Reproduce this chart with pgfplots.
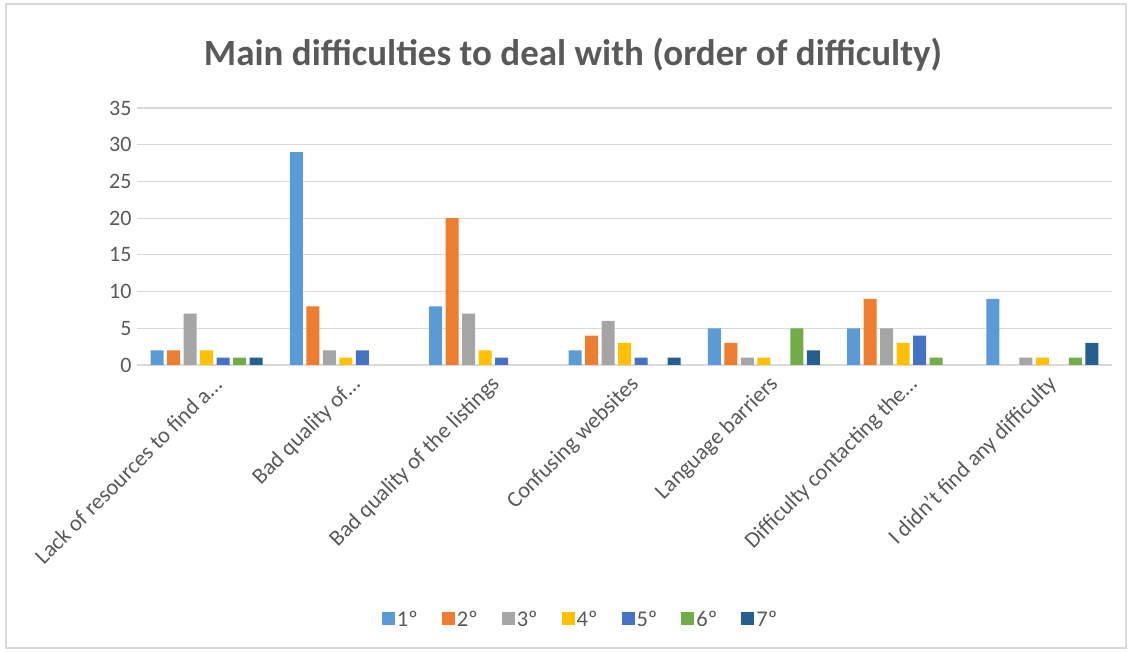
\documentclass[border=0pt]{standalone}
\usepackage{fontspec}
\setmainfont{Carlito}
\usepackage{pgfplots}
\pgfplotsset{compat=1.18}
\definecolor{c1}{HTML}{5B9BD5}
\definecolor{c2}{HTML}{ED7D31}
\definecolor{c3}{HTML}{A5A5A5}
\definecolor{c4}{HTML}{FFC000}
\definecolor{c5}{HTML}{4472C4}
\definecolor{c6}{HTML}{70AD47}
\definecolor{c7}{HTML}{255E91}
\definecolor{txt}{HTML}{595959}
\definecolor{gridc}{HTML}{D9D9D9}
\begin{document}
\begin{tikzpicture}[x=1pt,y=1pt]
\useasboundingbox (0,0) rectangle (1131,652);
\draw[gridc,line width=1.2pt] (6,4) rectangle (1126,648);
\node[font=\fontsize{37}{42}\selectfont\bfseries,text=txt] at (573,597) {Main difficulties to deal with (order of difficulty)};
\begin{axis}[
  at={(137pt,287pt)}, anchor=south west,
  scale only axis, width=975pt, height=257pt,
  ybar=3.5pt, bar width=13pt,
  xmin=-0.5, xmax=6.5, ymin=0, ymax=35,
  ytick={0,5,10,15,20,25,30,35},
  xtick={0,1,2,3,4,5,6},
  xticklabels={{Lack of resources to find a\ldots},{Bad quality of\ldots},{Bad quality of the listings},{Confusing websites},{Language barriers},{Difficulty contacting the\ldots},{I didn't find any difficulty}},
  xticklabel style={rotate=45, anchor=east, xshift=0pt, yshift=-19pt, font=\fontsize{22.5}{24}\selectfont, text=txt},
  yticklabel style={font=\fontsize{22}{24}\selectfont, text=txt, xshift=-2pt},
  /pgf/number format/assume math mode=true,
  major tick length=0pt,
  ymajorgrids, grid style={gridc, line width=1.2pt},
  axis line style={draw=none},
  legend columns=7,
  legend style={at={(axis description cs:0.455,-0.992)}, anchor=center, draw=none, fill=none,
    font=\fontsize{22.5}{24}\selectfont, text=txt,
    /tikz/every even column/.append style={column sep=22pt}},
  legend image code/.code={\fill[#1] (0pt,-5pt) rectangle (13pt,8pt);},
]
\addplot[fill=c1,draw=none] coordinates {(0,2)(1,29)(2,8)(3,2)(4,5)(5,5)(6,9)};
\addplot[fill=c2,draw=none] coordinates {(0,2)(1,8)(2,20)(3,4)(4,3)(5,9)};
\addplot[fill=c3,draw=none] coordinates {(0,7)(1,2)(2,7)(3,6)(4,1)(5,5)(6,1)};
\addplot[fill=c4,draw=none] coordinates {(0,2)(1,1)(2,2)(3,3)(4,1)(5,3)(6,1)};
\addplot[fill=c5,draw=none] coordinates {(0,1)(1,2)(2,1)(3,1)(5,4)};
\addplot[fill=c6,draw=none] coordinates {(0,1)(4,5)(5,1)(6,1)};
\addplot[fill=c7,draw=none] coordinates {(0,1)(3,1)(4,2)(6,3)};
\legend{1º,2º,3º,4º,5º,6º,7º}
\end{axis}
\end{tikzpicture}
\end{document}
